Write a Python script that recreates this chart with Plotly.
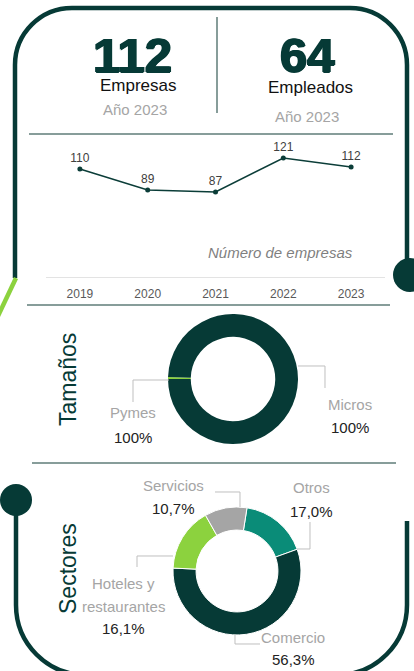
import plotly.graph_objects as go

W, H = 414, 671

# ---- data ----
years = ["2019", "2020", "2021", "2022", "2023"]
empresas = [110, 89, 87, 121, 112]

tam_labels = ["Pymes", "Micros"]
tam_values = [0.5, 99.5]
tam_texts = ["100%", "100%"]

sec_labels = ["Otros", "Comercio", "Hoteles y restaurantes", "Servicios"]
sec_values = [17.0, 56.3, 16.1, 10.7]
sec_texts = ["17,0%", "56,3%", "16,1%", "10,7%"]

kpi_values = ["112", "64"]
kpi_names = ["Empresas", "Empleados"]
kpi_year = "Año 2023"

DARK = "#063a36"
TEAL = "#0a8c78"
LGREEN = "#8cd23e"
GRAY = "#a5a5a5"
SEP = "#5f7d78"
LEADER = "#bfbfbf"
FONT = "Liberation Sans, Arial, sans-serif"
NARROW = "Liberation Sans Narrow, Arial Narrow, Liberation Sans, sans-serif"


def px(x):
    return x / W


def py(y):
    return 1 - y / H


def path_px(cmds):
    out = []
    for c in cmds:
        op = c[0]
        pts = c[1:]
        coords = []
        for i in range(0, len(pts), 2):
            coords.append(f"{px(pts[i]):.5f},{py(pts[i+1]):.5f}")
        out.append(op + " " + " ".join(coords))
    return " ".join(out)


K = 0.5523

fig = go.Figure()

# line chart
fig.add_trace(go.Scatter(
    x=years, y=empresas, mode="lines+markers+text",
    text=[str(v) for v in empresas], textposition="top center",
    textfont=dict(size=12, color="#404040", family=NARROW),
    line=dict(color="#0b3d38", width=1.6),
    marker=dict(size=5, color="#0b3d38"),
    cliponaxis=False, hoverinfo="skip", showlegend=False,
))

# Tamaños donut
cx1, cy1, r1 = 233, 379, 65
fig.add_trace(go.Pie(
    labels=tam_labels, values=tam_values, hole=0.65, sort=False,
    direction="clockwise", rotation=-90,
    marker=dict(colors=[LGREEN, DARK], line=dict(width=0)),
    textinfo="none", showlegend=False, hoverinfo="skip",
    domain=dict(x=[px(cx1 - r1), px(cx1 + r1)], y=[py(cy1 + r1), py(cy1 - r1)]),
))

# Sectores donut
cx2, cy2, r2 = 237, 571, 64
fig.add_trace(go.Pie(
    labels=sec_labels, values=sec_values, hole=0.64, sort=False,
    direction="clockwise", rotation=9,
    marker=dict(colors=[TEAL, DARK, LGREEN, GRAY], line=dict(width=1, color="white")),
    textinfo="none", showlegend=False, hoverinfo="skip",
    domain=dict(x=[px(cx2 - r2), px(cx2 + r2)], y=[py(cy2 + r2), py(cy2 - r2)]),
))

shapes = []

# top frame
R = 57
L, Rr, T = 15, 407, 8
top_path = path_px([
    ("M", L, 278),
    ("L", L, T + R),
    ("C", L, T + R - K * R, L + R - K * R, T, L + R, T),
    ("L", Rr - R, T),
    ("C", Rr - R + K * R, T, Rr, T + R - K * R, Rr, T + R),
    ("L", Rr, 262),
])
shapes.append(dict(type="path", xref="paper", yref="paper", path=top_path,
                   line=dict(color=DARK, width=4.5)))

# bottom frame
R2 = 70
Lb, Rb, B = 16, 407, 675
bl_path = path_px([
    ("M", Lb, 505),
    ("L", Lb, B - R2),
    ("C", Lb, B - R2 + K * R2, Lb + R2 - K * R2, B, Lb + R2, B),
    ("L", Rb - R2, B),
    ("C", Rb - R2 + K * R2, B, Rb, B - R2 + K * R2, Rb, B - R2),
    ("L", Rb, 521),
])
shapes.append(dict(type="path", xref="paper", yref="paper", path=bl_path,
                   line=dict(color=DARK, width=4.5)))

# green diagonal
shapes.append(dict(type="line", xref="paper", yref="paper",
                   x0=px(16), y0=py(278), x1=px(-3), y1=py(318),
                   line=dict(color=LGREEN, width=4.5)))


def circle(cx, cy, r, color):
    return dict(type="circle", xref="paper", yref="paper",
                x0=px(cx - r), x1=px(cx + r), y0=py(cy + r), y1=py(cy - r),
                fillcolor=color, line=dict(width=0))


shapes.append(circle(410, 275, 17, DARK))
shapes.append(circle(16, 500, 16, DARK))


def hline(x0, x1, y, color=SEP, w=1.5):
    return dict(type="line", xref="paper", yref="paper",
                x0=px(x0), x1=px(x1), y0=py(y), y1=py(y),
                line=dict(color=color, width=w))


shapes.append(hline(29, 393, 134))
shapes.append(hline(27, 390, 305))
shapes.append(hline(32, 396, 463))
shapes.append(dict(type="line", xref="paper", yref="paper",
                   x0=px(217), x1=px(217), y0=py(17), y1=py(113),
                   line=dict(color=SEP, width=1.5)))


def poly(points):
    cmds = [("M",) + points[0]] + [("L",) + p for p in points[1:]]
    return dict(type="path", xref="paper", yref="paper", path=path_px(cmds),
                line=dict(color=LEADER, width=1))


shapes.append(poly([(169, 380), (133, 380), (133, 402)]))
shapes.append(poly([(298, 366), (325, 366), (325, 388)]))
shapes.append(poly([(240, 507), (240, 492), (215, 492)]))
shapes.append(poly([(297, 549), (310, 549), (310, 522)]))
shapes.append(poly([(173, 556), (137, 556), (137, 567)]))
shapes.append(poly([(235, 635), (235, 644), (260, 644)]))

annotations = []


def text(x, y, s, size, color, **kw):
    fontkw = kw.pop("fontkw", {})
    fam = kw.pop("family", FONT)
    d = dict(xref="paper", yref="paper", x=px(x), y=py(y), text=s, showarrow=False,
             xanchor="center", yanchor="middle",
             font=dict(size=size, color=color, family=fam, **fontkw))
    d.update(kw)
    annotations.append(d)


bold_shadow = f"1px 0 0 {DARK}, -1px 0 0 {DARK}, 0 1px 0 {DARK}"
text(132, 55, kpi_values[0], 49, DARK, fontkw=dict(weight="bold", shadow=bold_shadow))
text(307, 55, kpi_values[1], 49, DARK, fontkw=dict(weight="bold", shadow=bold_shadow))
text(138, 86, kpi_names[0], 17, "#111111")
text(310, 87, kpi_names[1], 17, "#111111")
text(135, 110, kpi_year, 15, GRAY)
text(307, 116, kpi_year, 15, GRAY)

text(280, 252, "Número de empresas", 15, "#7f7f7f", fontkw=dict(style="italic"))

text(68, 380, "Tamaños", 23, DARK, textangle=-90)
text(68, 569, "Sectores", 23, DARK, textangle=-90)

text(133, 413, tam_labels[0], 15, GRAY)
text(133, 437, tam_texts[0], 15, "#222222")
text(350, 404, tam_labels[1], 15, GRAY)
text(350, 427, tam_texts[1], 15, "#222222")

text(173, 485, sec_labels[3], 15, GRAY)
text(173, 508, sec_texts[3], 15, "#222222")
text(311, 487, sec_labels[0], 15, GRAY)
text(311, 511, sec_texts[0], 15, "#222222")
text(123, 583, "Hoteles y", 15, GRAY)
text(123, 606, "restaurantes", 15, GRAY)
text(123, 628, sec_texts[2], 15, "#222222")
text(293, 637, sec_labels[1], 15, GRAY)
text(293, 659, sec_texts[1], 15, "#222222")

fig.update_layout(
    width=W, height=H, margin=dict(l=0, r=0, t=0, b=0),
    paper_bgcolor="white", plot_bgcolor="rgba(0,0,0,0)",
    font=dict(family=FONT),
    xaxis=dict(domain=[px(46), px(385)], type="category", range=[-0.5, 4.5],
               showgrid=False, zeroline=False, showline=True, linecolor="#e3e3e3",
               linewidth=1, ticks="", ticklabelstandoff=6,
               tickfont=dict(size=12, color="#595959", family=NARROW), fixedrange=True),
    yaxis=dict(domain=[py(277), py(138)], range=[2, 141], visible=False, fixedrange=True),
    shapes=shapes, annotations=annotations,
)

fig.write_html(
    "out.html",
    config={"displayModeBar": False},
    post_script="document.body.style.margin='0';document.body.style.overflow='hidden';",
)
